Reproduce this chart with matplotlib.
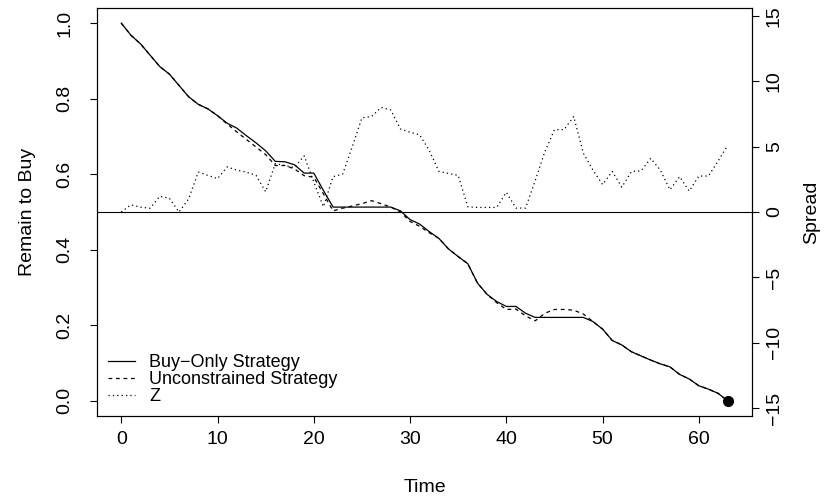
import numpy as np
import matplotlib
matplotlib.use("Agg")
from matplotlib import pyplot as plt

plt.rcParams['font.family'] = ['Liberation Sans', 'DejaVu Sans']

# time steps 0..63
time = list(range(64))

buy_only = [1.000, 0.968, 0.945, 0.915, 0.885, 0.865, 0.835, 0.805, 0.785, 0.773,
            0.755, 0.735, 0.722, 0.702, 0.683, 0.662, 0.634, 0.633, 0.625, 0.603,
            0.603, 0.557, 0.513, 0.513, 0.513, 0.513, 0.513, 0.513, 0.513, 0.503,
            0.480, 0.468, 0.448, 0.430, 0.402, 0.382, 0.363, 0.312, 0.282, 0.263,
            0.250, 0.250, 0.232, 0.221, 0.221, 0.221, 0.221, 0.221, 0.221, 0.210,
            0.190, 0.160, 0.148, 0.130, 0.119, 0.108, 0.098, 0.090, 0.070, 0.058,
            0.040, 0.031, 0.020, 0.000]

unconstrained = [1.000, 0.968, 0.945, 0.915, 0.885, 0.865, 0.835, 0.805, 0.785, 0.773,
                 0.755, 0.733, 0.712, 0.692, 0.672, 0.652, 0.623, 0.623, 0.614, 0.596,
                 0.592, 0.548, 0.503, 0.510, 0.516, 0.522, 0.530, 0.522, 0.513, 0.500,
                 0.475, 0.462, 0.445, 0.430, 0.402, 0.382, 0.363, 0.312, 0.282, 0.260,
                 0.242, 0.243, 0.225, 0.212, 0.232, 0.242, 0.242, 0.240, 0.230, 0.210,
                 0.190, 0.160, 0.148, 0.130, 0.119, 0.108, 0.098, 0.090, 0.070, 0.058,
                 0.040, 0.031, 0.020, 0.000]

z = [0.0, 0.55, 0.37, 0.29, 1.2, 1.05, 0.0, 1.0, 3.05, 2.8,
     2.55, 3.45, 3.2, 3.05, 2.8, 1.55, 3.7, 3.55, 3.4, 4.3,
     2.3, 0.4, 2.7, 2.9, 5.0, 7.2, 7.3, 8.0, 7.8, 6.35,
     6.1, 5.9, 4.7, 3.1, 2.95, 2.8, 0.4, 0.35, 0.35, 0.35,
     1.5, 0.3, 0.3, 2.4, 4.6, 6.3, 6.3, 7.3, 4.5, 3.2,
     2.1, 3.1, 1.9, 3.1, 3.15, 4.1, 3.2, 1.7, 2.7, 1.6,
     2.75, 2.75, 3.9, 5.1]

FS = 14
W, H = 827, 504
fig = plt.figure(figsize=(W / 100, H / 100), dpi=100)
ax = fig.add_axes([97 / W, 1 - 416 / H, (752 - 97) / W, (416 - 8) / H])

l1, = ax.plot(time, buy_only, color='black', lw=0.9, label='Buy\u2212Only Strategy')
l2, = ax.plot(time, unconstrained, color='black', lw=0.9, ls=(0, (3, 3)),
              label='Unconstrained Strategy')
ax.plot([time[-1]], [buy_only[-1]], 'o', color='black', ms=7)

ax.set_xlim(-63 * 0.04, 63 * 1.04)
ax.set_ylim(-0.04, 1.04)
ax.set_xticks([0, 10, 20, 30, 40, 50, 60])
ax.set_yticks([0.0, 0.2, 0.4, 0.6, 0.8, 1.0])
ax.set_yticklabels(['0.0', '0.2', '0.4', '0.6', '0.8', '1.0'], rotation=90, va='center')
ax.tick_params(axis='both', direction='out', length=5, width=0.8, labelsize=FS)
ax.tick_params(axis='x', pad=6)
ax.tick_params(axis='y', pad=12)
for s in ax.spines.values():
    s.set_linewidth(0.8)

ax2 = ax.twinx()
l3, = ax2.plot(time, z, color='black', lw=0.9, ls=(0, (1, 2.5)), label='Z')
ax2.axhline(0, color='black', lw=0.8)
ax2.set_ylim(-15 * 1.04, 15 * 1.04)
ax2.set_yticks([-15, -10, -5, 0, 5, 10, 15])
ax2.set_yticklabels(['\u221215', '\u221210', '\u22125', '0', '5', '10', '15'],
                    rotation=90, va='center')
ax2.tick_params(axis='y', direction='out', length=5, width=0.8, labelsize=FS, pad=5)

fig.text(28 / W, 1 - 212 / H, 'Remain to Buy', rotation=90, ha='center', va='center', fontsize=FS)
fig.text(812 / W, 1 - 212 / H, 'Spread', rotation=90, ha='center', va='center', fontsize=FS)
fig.text((97 + 752) / 2 / W, 1 - 488 / H, 'Time', ha='center', va='center', fontsize=FS)

ax2.legend(handles=[l1, l2, l3], loc='lower left', bbox_to_anchor=(0.0, 0.0),
           frameon=False, fontsize=13, handlelength=1.5, handletextpad=0.8,
           labelspacing=0.0, borderaxespad=0.2)

fig.savefig('out.png', dpi=100)
